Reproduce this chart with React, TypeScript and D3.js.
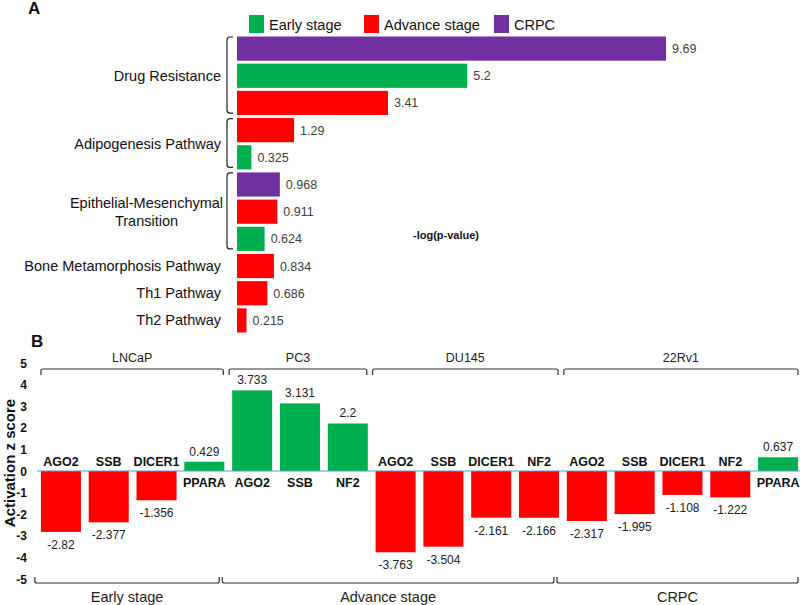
import React from "react";
import * as d3 from "d3";

// ---------- Panel A data ----------
const stages = ["Early stage", "Advance stage", "CRPC"];
const stageColors = ["#00B050", "#FF0000", "#7030A0"];

const aGroups = ["Drug Resistance", "Adipogenesis Pathway", "Epithelial-Mesenchymal Transition", "Bone Metamorphosis Pathway", "Th1 Pathway", "Th2 Pathway"];
const aGroupLines = [["Drug Resistance"], ["Adipogenesis Pathway"], ["Epithelial-Mesenchymal", "Transition"], ["Bone Metamorphosis Pathway"], ["Th1 Pathway"], ["Th2 Pathway"]];
const aRowGroup = [0, 0, 0, 1, 1, 2, 2, 2, 3, 4, 5];
const aRowStage = [2, 0, 1, 1, 0, 2, 1, 0, 1, 1, 1];
const aRowValue = [9.69, 5.2, 3.41, 1.29, 0.325, 0.968, 0.911, 0.624, 0.834, 0.686, 0.215];
const aRowLabel = ["9.69", "5.2", "3.41", "1.29", "0.325", "0.968", "0.911", "0.624", "0.834", "0.686", "0.215"];
const aBracketGroups = [0, 1, 2];

// ---------- Panel B data ----------
const bCellLines = ["LNCaP", "PC3", "DU145", "22Rv1"];
const bGenes = ["AGO2", "SSB", "DICER1", "PPARA", "AGO2", "SSB", "NF2", "AGO2", "SSB", "DICER1", "NF2", "AGO2", "SSB", "DICER1", "NF2", "PPARA"];
const bValues = [-2.82, -2.377, -1.356, 0.429, 3.733, 3.131, 2.2, -3.763, -3.504, -2.161, -2.166, -2.317, -1.995, -1.108, -1.222, 0.637];
const bValueLabels = ["-2.82", "-2.377", "-1.356", "0.429", "3.733", "3.131", "2.2", "-3.763", "-3.504", "-2.161", "-2.166", "-2.317", "-1.995", "-1.108", "-1.222", "0.637"];
const bCellLineRange = [[0, 3], [4, 6], [7, 10], [11, 15]];
const bStageNames = ["Early stage", "Advance stage", "CRPC"];
const bStageRange = [[0, 3], [4, 10], [11, 15]];
const bTicks = [5, 4, 3, 2, 1, 0, -1, -2, -3, -4, -5];

const FONT = "Arial, 'Liberation Sans', sans-serif";

export default function App() {
  // Panel A scales
  const xA = d3.scaleLinear().domain([0, 9.69]).range([237, 666]);
  const yA = d3.scaleBand<number>().domain(d3.range(aRowValue.length)).range([35, 334]).paddingInner(0.11).paddingOuter(0.055);
  const bhA = yA.bandwidth();

  // Panel B scales
  const xB = d3.scaleBand<number>().domain(d3.range(bValues.length)).range([37, 802]).paddingInner(0.163).paddingOuter(0.0815);
  const yB = d3.scaleLinear().domain([0, 1]).range([471, 449.4]);
  const bw = xB.bandwidth();

  const groupRows = (g: number) => aRowGroup.map((gg, i) => (gg === g ? i : -1)).filter((i) => i >= 0);

  return (
    <svg width={800} height={605} style={{ position: "absolute", left: 0, top: 0, background: "#fff" }} fontFamily={FONT}>
      <rect x={0} y={0} width={800} height={605} fill="#fff" />
      {/* ---------- Panel A ---------- */}
      <text x={28} y={14} fontSize={17} fontWeight="bold" fill="#111">A</text>
      {/* legend */}
      {stages.map((s, i) => {
        const lx = [249, 364, 494][i];
        return (
          <g key={s}>
            <rect x={lx} y={15} width={15} height={18} fill={stageColors[i]} />
            <text x={lx + 20} y={30} fontSize={14.5} fill="#111">{s}</text>
          </g>
        );
      })}
      {/* bars */}
      {aRowValue.map((v, i) => (
        <g key={i}>
          <rect x={xA(0)} y={yA(i)!} width={xA(v) - xA(0)} height={bhA} fill={stageColors[aRowStage[i]]} />
          <text x={xA(v) + 6} y={yA(i)! + bhA / 2 + 4.5} fontSize={12.5} fill="#404040">{aRowLabel[i]}</text>
        </g>
      ))}
      {/* category labels */}
      {aGroups.map((g, gi) => {
        const rows = groupRows(gi);
        const y0 = yA(rows[0])!;
        const y1 = yA(rows[rows.length - 1])! + bhA;
        const cy = (y0 + y1) / 2;
        const lines = aGroupLines[gi];
        if (lines.length === 1) {
          return (
            <text key={g} x={221} y={cy + 5} fontSize={14.5} textAnchor="end" fill="#111">{lines[0]}</text>
          );
        }
        return (
          <g key={g}>
            {lines.map((l, li) => (
              <text key={li} x={146.5} y={cy + 5 + (li - (lines.length - 1) / 2) * 18} fontSize={14.5} textAnchor="middle" fill="#111">{l}</text>
            ))}
          </g>
        );
      })}
      {/* brackets */}
      {aBracketGroups.map((g) => {
        const rows = groupRows(g);
        const y0 = yA(rows[0])! + 0.5;
        const y1 = yA(rows[rows.length - 1])! + bhA - 2;
        const p = `M233,${y0} L230,${y0} Q227,${y0} 227,${y0 + 3} L227,${y1 - 3} Q227,${y1} 230,${y1} L233,${y1}`;
        return <path key={g} d={p} fill="none" stroke="#222" strokeWidth={1.2} />;
      })}
      <text x={413} y={239} fontSize={11} fontWeight="bold" fill="#111">-log(p-value)</text>

      {/* ---------- Panel B ---------- */}
      <text x={31} y={347} fontSize={17} fontWeight="bold" fill="#111">B</text>
      {/* y tick labels */}
      {bTicks.map((t) => (
        <text key={t} x={27} y={yB(t) + 4.5} fontSize={12} fontWeight="bold" textAnchor="end" fill="#111">{t}</text>
      ))}
      <text transform={`translate(15,463) rotate(-90)`} fontSize={15} fontWeight="bold" textAnchor="middle" fill="#111">Activation z score</text>
      {/* bars */}
      {bValues.map((v, i) => {
        const x = xB(i)!;
        const top = Math.min(yB(v), yB(0));
        const h = Math.abs(yB(v) - yB(0));
        const cx = x + bw / 2;
        return (
          <g key={i}>
            <rect x={x} y={top} width={bw} height={h} fill={v >= 0 ? "#00B050" : "#FF0000"} />
            <text x={cx} y={v >= 0 ? yB(v) - 6 : yB(v) + 17} fontSize={12} textAnchor="middle" fill="#222">{bValueLabels[i]}</text>
            <text x={cx} y={v >= 0 ? yB(0) + 16 : yB(0) - 5} fontSize={12.5} fontWeight="bold" textAnchor="middle" fill="#111">{bGenes[i]}</text>
          </g>
        );
      })}
      <line x1={37} x2={800} y1={yB(0)} y2={yB(0)} stroke="#5B9BD5" strokeWidth={1} />
      {/* top cell line brackets */}
      {bCellLines.map((c, ci) => {
        const [a, b] = bCellLineRange[ci];
        const x0 = ci === 0 ? xB(a)! : xB(a)! - 3;
        const x1 = ci === bCellLines.length - 1 ? 798 : xB(b)! + bw - 1;
        const y = 369;
        const p = `M${x0},${y + 6} L${x0},${y + 2} Q${x0},${y} ${x0 + 2},${y} L${x1 - 2},${y} Q${x1},${y} ${x1},${y + 2} L${x1},${y + 6}`;
        return (
          <g key={c}>
            <path d={p} fill="none" stroke="#333" strokeWidth={1.2} />
            <text x={(x0 + x1) / 2} y={362} fontSize={12.5} textAnchor="middle" fill="#222">{c}</text>
          </g>
        );
      })}
      {/* bottom stage brackets */}
      {bStageNames.map((s, si) => {
        const [a, b] = bStageRange[si];
        const x0 = si === 0 ? xB(a)! - 6 : (xB(a - 1)! + bw + xB(a)!) / 2 - 6;
        const x1 = si === bStageNames.length - 1 ? 798 : (xB(b)! + bw + xB(b + 1)!) / 2 - 9;
        const y = 583;
        const p = `M${x0},${y - 6} L${x0},${y - 2} Q${x0},${y} ${x0 + 2},${y} L${x1 - 2},${y} Q${x1},${y} ${x1},${y - 2} L${x1},${y - 6}`;
        return (
          <g key={s}>
            <path d={p} fill="none" stroke="#333" strokeWidth={1.2} />
            <text x={(x0 + x1) / 2} y={602} fontSize={14.5} textAnchor="middle" fill="#222">{s}</text>
          </g>
        );
      })}
    </svg>
  );
}
